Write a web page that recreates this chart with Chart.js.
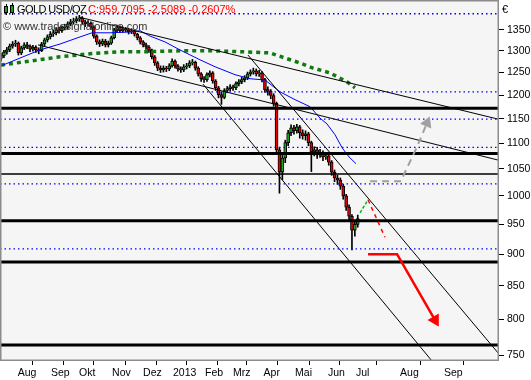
<!DOCTYPE html>
<html>
<head>
<meta charset="utf-8">
<script src="https://cdn.jsdelivr.net/npm/chart.js@4.4.1/dist/chart.umd.min.js"></script>
<style>
html, body { margin: 0; padding: 0; background: #fff; }
#wrap { position: relative; width: 531px; height: 380px; }
#wrap canvas { position: absolute; left: 0; top: 0; }
.txt { position: absolute; font-family: "Liberation Sans", Arial, sans-serif; font-size: 11px; line-height: 12px; white-space: nowrap; }
.ic { position: absolute; width: 1px; background: #000; }
.ib { position: absolute; width: 2px; background: #1aa01a; border: 1px solid #000; }
</style>
</head>
<body>
<div id="wrap">
  <canvas id="gold" width="531" height="380"></canvas>
  <div class="ic" style="left:6px;top:4px;height:11px"></div>
  <div class="ib" style="left:4px;top:6px;height:5px"></div>
  <div class="ic" style="left:12px;top:3px;height:12px"></div>
  <div class="ib" style="left:10px;top:5px;height:6px"></div>
  <span class="txt" style="left:17px;top:3px;letter-spacing:-0.6px;color:#000">GOLD USD/OZ</span>
  <span class="txt" style="left:88px;top:3px;color:#f00">C:959.7095 -2.5089 -0.2607%</span>
  <span class="txt" style="left:3px;top:20px;color:#333">© www.tradesignalonline.com</span>
  <span class="txt" style="left:502px;top:3px;color:#000">€</span>
</div>
<script>
// x axis is counted in trading days, one candle every 2 days
var X_MIN = -0.7, X_MAX = 343.4;
var monthTicks = [10.1, 33.1, 52.4, 75.2, 96.6, 117.2, 139.3, 158.6, 179.7, 201.4, 224.1, 243.4, 273.8, 304.1];
var monthLabels = ['Aug', 'Sep', 'Okt', 'Nov', 'Dez', '2013', 'Feb', 'Mrz', 'Apr', 'Mai', 'Jun', 'Jul', 'Aug', 'Sep'];
var priceTicks = [750, 800, 850, 900, 950, 1000, 1050, 1100, 1150, 1200, 1250, 1300, 1350];

var firstOpen = 1282;
var closes = [1288,1297,1302,1311,1316,1318,1295,1307,1314,1311,
  1304,1309,1302,1300,1316,1326,1333,1340,1343,1350,
  1348,1355,1357,1365,1370,1372,1377,1379,1370,1365,
  1367,1357,1335,1321,1316,1323,1314,1318,1331,1350,
  1357,1348,1352,1350,1345,1348,1340,1331,1321,1314,
  1309,1302,1286,1272,1260,1256,1260,1258,1265,1276,
  1265,1258,1256,1263,1265,1272,1274,1260,1247,1236,
  1234,1245,1249,1231,1216,1201,1195,1210,1214,1218,
  1216,1225,1229,1234,1238,1247,1251,1254,1247,1249,
  1234,1212,1208,1199,1182,1087,1044,1071,1101,1121,
  1131,1125,1133,1121,1115,1119,1101,1083,1087,1077,
  1081,1073,1075,1063,1044,1033,1029,1018,1000,980,
  964,940,950,959.71];
var highs = [1294,1301,1308,1316,1322,1325,1321,1311,1319,1320,
  1314,1313,1312,1307,1320,1330,1338,1346,1350,1356,
  1357,1360,1364,1370,1376,1379,1383,1386,1383,1374,
  1373,1370,1360,1338,1326,1328,1327,1323,1335,1354,
  1362,1360,1357,1356,1354,1353,1350,1342,1334,1324,
  1318,1312,1304,1289,1275,1265,1265,1264,1270,1281,
  1279,1268,1263,1268,1271,1277,1280,1276,1263,1250,
  1241,1249,1254,1252,1234,1219,1206,1214,1219,1223,
  1222,1229,1234,1239,1243,1251,1256,1260,1258,1255,
  1252,1237,1218,1212,1203,1185,1092,1076,1106,1126,
  1137,1136,1138,1136,1127,1125,1122,1104,1093,1092,
  1088,1085,1082,1078,1066,1048,1038,1033,1021,1003,
  984,967,956,966];
var lows = [1276,1284,1292,1298,1306,1310,1290,1291,1303,1305,
  1298,1299,1296,1293,1298,1312,1321,1328,1334,1338,
  1342,1344,1350,1352,1360,1364,1367,1371,1364,1358,
  1360,1352,1330,1315,1310,1312,1309,1309,1315,1328,
  1346,1343,1344,1345,1340,1341,1335,1326,1316,1309,
  1303,1296,1281,1266,1254,1250,1251,1252,1254,1262,
  1260,1253,1250,1252,1258,1261,1267,1255,1242,1230,
  1228,1230,1240,1226,1210,1194,1180,1192,1205,1209,
  1210,1212,1220,1225,1229,1234,1242,1246,1242,1241,
  1229,1206,1200,1192,1176,1080,1005,1030,1062,1095,
  1115,1118,1120,1110,1108,1106,1095,1045,1075,1070,
  1072,1066,1068,1057,1038,1026,1021,1012,994,974,
  957,907,930,945];

// moving averages
var maFastX = [0, 13.1, 26.9, 40.7, 54.5, 62.8, 75.2, 89.0, 95.9, 102.8, 113.1, 123.4, 137.2, 147.6, 161.4, 171.7, 182.1, 192.4, 202.8, 213.1, 220.0, 224.8, 230.3, 235.2, 240.0, 244.8];
var maFastY = [1265, 1283, 1302, 1316, 1333, 1343, 1343, 1345, 1348, 1335, 1321, 1302, 1279, 1263, 1245, 1236, 1233, 1207, 1190, 1175, 1151, 1139, 1117, 1091, 1073, 1060];
var maSlowX = [0, 20.0, 40.7, 61.4, 82.1, 102.8, 123.4, 144.1, 164.8, 185.5, 195.9, 204.1, 215.2, 226.9, 238.6, 244.1];
var maSlowY = [1267, 1276, 1286, 1293, 1298, 1298, 1300, 1300, 1298, 1295, 1283, 1274, 1260, 1249, 1229, 1216];

// drawn objects
var thickLevels = [1172, 1079.5, 956, 887.5, 763.7];
var thinLevels = [1040.5];
var dottedLevels = [1390, 1207, 1149, 1091.6, 1022, 908.6];
var trendLines = [
  [54.5, 1381, 342.7, 1149],
  [25.5, 1314, 342.7, 1067],
  [139.3, 1224, 297.2, 742],
  [170.3, 1290, 342.7, 753]
];
var grayPathX = [254.5, 275.9, 277.9, 286.9, 293.8];
var grayPathY = [1027, 1027, 1040, 1093, 1141];
var redPathX = [253.1, 273.1, 299.3];
var redPathY = [900, 900, 799];
var fcUpX = [247.6, 253.1];
var fcUpY = [970, 993];
var fcDownX = [253.1, 264.8];
var fcDownY = [993, 928];

function lineSet(xs, ys, style) {
  var d = xs.map(function (x, i) { return {x: x, y: ys[i]}; });
  return Object.assign({type: 'line', data: d, pointRadius: 0, borderWidth: 1, borderColor: '#000', fill: false, tension: 0}, style);
}

var opens = closes.map(function (c, i) { return i === 0 ? firstOpen : closes[i - 1]; });
var bodies = closes.map(function (c, i) { return {x: i * 2, y: [opens[i], c]}; });
var wicks = closes.map(function (c, i) { return {x: i * 2, y: [lows[i], highs[i]]}; });
var bodyColors = closes.map(function (c, i) { return c >= opens[i] ? '#18a818' : '#e80000'; });

var datasets = [];
datasets.push({type: 'bar', data: bodies, backgroundColor: bodyColors, borderColor: '#000', borderWidth: 1,
  borderSkipped: false, barThickness: 3, grouped: false, order: 3});
datasets.push({type: 'bar', data: wicks, backgroundColor: '#000', borderWidth: 0,
  barThickness: 1, grouped: false, order: 4});

datasets.push(lineSet(maFastX, maFastY, {borderColor: '#0000ff', order: 2}));
datasets.push(lineSet(maSlowX, maSlowY, {borderColor: '#107a10', borderWidth: 3.5, borderDash: [4, 4], order: 2}));

thickLevels.forEach(function (v) {
  datasets.push(lineSet([X_MIN, X_MAX], [v, v], {borderWidth: 3, order: 1}));
});
thinLevels.forEach(function (v) {
  datasets.push(lineSet([X_MIN, X_MAX], [v, v], {borderWidth: 1.4, order: 1}));
});
dottedLevels.forEach(function (v) {
  datasets.push(lineSet([X_MIN, X_MAX], [v, v], {borderColor: '#0000ff', borderWidth: 1.3, borderDash: [1.5, 3], order: 1}));
});
trendLines.forEach(function (t) {
  datasets.push(lineSet([t[0], t[2]], [t[1], t[3]], {order: 1}));
});

datasets.push(lineSet(fcUpX, fcUpY, {borderColor: '#00c000', borderWidth: 1.5, borderDash: [3, 2], order: 0}));
datasets.push(lineSet(fcDownX, fcDownY, {borderColor: '#ff0000', borderWidth: 1.5, borderDash: [4, 4], order: 0}));
datasets.push(lineSet(grayPathX, grayPathY, {borderColor: '#a0a0a0', borderWidth: 2, borderDash: [7, 5], order: 0,
  pointStyle: 'triangle', pointRadius: [0, 0, 0, 0, 5], pointRotation: 23,
  pointBackgroundColor: '#a0a0a0', pointBorderColor: '#a0a0a0'}));
datasets.push(lineSet(redPathX, redPathY, {borderColor: '#ff0000', borderWidth: 2.5, order: 0,
  pointStyle: 'triangle', pointRadius: [0, 0, 5], pointRotation: 150,
  pointBackgroundColor: '#ff0000', pointBorderColor: '#ff0000'}));

var frame = {
  id: 'frame',
  beforeDraw: function (chart) {
    var ctx = chart.ctx, a = chart.chartArea;
    ctx.save();
    ctx.fillStyle = '#fff';
    ctx.fillRect(0, 0, chart.width, chart.height);
    ctx.fillStyle = '#f5f5f5';
    ctx.fillRect(a.left, a.top, a.right - a.left, a.bottom - a.top);
    ctx.restore();
  },
  afterDraw: function (chart) {
    var ctx = chart.ctx, a = chart.chartArea;
    ctx.save();
    ctx.strokeStyle = '#8c8c8c';
    ctx.lineWidth = 1.5;
    ctx.strokeRect(a.left + 0.75, a.top + 0.75, a.right - a.left - 1.5, a.bottom - a.top - 1.5);
    ctx.restore();
  }
};

Chart.defaults.font.family = '"Liberation Sans", Arial, sans-serif';

new Chart(document.getElementById('gold'), {
  type: 'bar',
  data: {datasets: datasets},
  options: {
    responsive: false,
    animation: false,
    layout: {padding: 0, autoPadding: false},
    plugins: {legend: {display: false}, tooltip: {enabled: false}},
    scales: {
      x: {
        type: 'linear', position: 'bottom', min: X_MIN, max: X_MAX, offset: false,
        grid: {drawOnChartArea: false, tickLength: 4, color: '#000', tickColor: '#000'},
        border: {display: false},
        afterBuildTicks: function (s) { s.ticks = monthTicks.map(function (v) { return {value: v}; }); },
        afterFit: function (s) { s.height = 19; s.paddingLeft = 0; s.paddingRight = 0; },
        ticks: {autoSkip: false, maxRotation: 0, align: 'start', labelOffset: 2, padding: 2, color: '#000',
          font: {size: 10.5}, callback: function (v, i) { return monthLabels[i]; }}
      },
      y: {
        type: 'logarithmic', position: 'right', min: 742, max: 1425,
        grid: {drawOnChartArea: false, tickLength: 5, color: '#000', tickColor: '#000'},
        border: {display: false},
        afterBuildTicks: function (s) { s.ticks = priceTicks.map(function (v) { return {value: v}; }); },
        afterFit: function (s) { s.width = 32; s.paddingTop = 0; s.paddingBottom = 0; },
        ticks: {padding: 3, color: '#000', font: {size: 10.5}, callback: function (v) { return String(v); }}
      }
    }
  },
  plugins: [frame]
});
</script>
</body>
</html>
